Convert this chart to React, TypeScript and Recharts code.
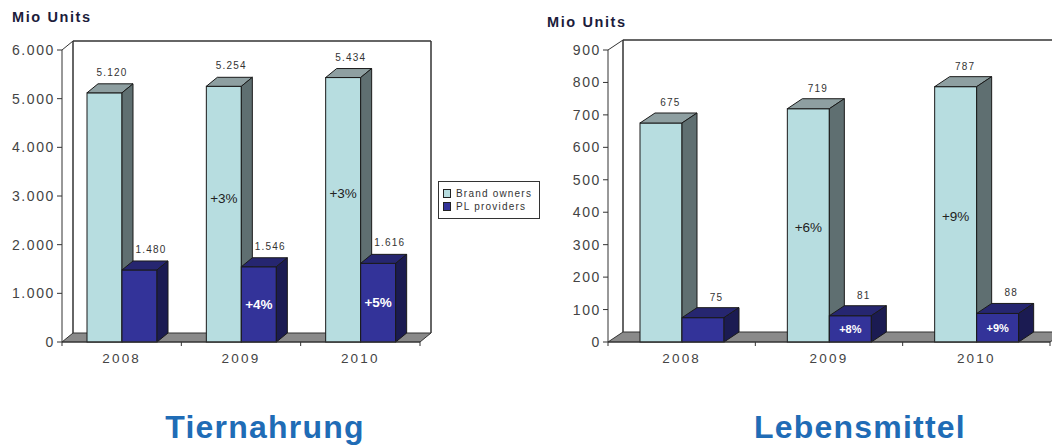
import { BarChart, Bar, XAxis, YAxis, LabelList, Customized } from "recharts"

const years = ["2008", "2009", "2010"]

// Tiernahrung (Mio Units)
const petBrand = [5120, 5254, 5434]
const petPL = [1480, 1546, 1616]
const petBrandGrowth = ["", "+3%", "+3%"]
const petPLGrowth = ["", "+4%", "+5%"]
const petTicks = [0, 1000, 2000, 3000, 4000, 5000, 6000]

// Lebensmittel (Mio Units)
const foodBrand = [675, 719, 787]
const foodPL = [75, 81, 88]
const foodBrandGrowth = ["", "+6%", "+9%"]
const foodPLGrowth = ["", "+8%", "+9%"]
const foodTicks = [0, 100, 200, 300, 400, 500, 600, 700, 800, 900]

const seriesNames = ["Brand owners", "PL providers"]

const FONT = '"Liberation Sans", Arial, sans-serif'

const BRAND = { front: "#b7dde0", top: "#8e9fa1", side: "#5f6f71" }
const PL = { front: "#333399", top: "#262670", side: "#1b1b52" }

const fmt = (v: number) => String(v).replace(/\B(?=(\d{3})+(?!\d))/g, ".")

type Row = { year: string; brand: number; pl: number; brandGrowth: string; plGrowth: string }

function rows(brand: number[], pl: number[], bg: string[], pg: string[]): Row[] {
  return years.map((year, i) => ({ year, brand: brand[i], pl: pl[i], brandGrowth: bg[i], plGrowth: pg[i] }))
}

const petData = rows(petBrand, petPL, petBrandGrowth, petPLGrowth)
const foodData = rows(foodBrand, foodPL, foodBrandGrowth, foodPLGrowth)

function Box3D(props: any) {
  const { x, y, width: w, height: h, colors, d, r } = props
  if (h == null || w == null) return null
  const s = "#1a1a1a"
  return (
    <g>
      <rect x={x} y={y} width={w} height={h} fill={colors.front} stroke={s} strokeWidth={1} />
      <polygon points={`${x},${y} ${x + d},${y - r} ${x + w + d},${y - r} ${x + w},${y}`} fill={colors.top} stroke={s} strokeWidth={1} />
      <polygon points={`${x + w},${y} ${x + w + d},${y - r} ${x + w + d},${y + h - r} ${x + w},${y + h}`} fill={colors.side} stroke={s} strokeWidth={1} />
    </g>
  )
}

// back wall + floor, plot box given in chart coordinates
function Wall({ L, R, T, B, d, r, n }: { L: number; R: number; T: number; B: number; d: number; r: number; n: number }) {
  const s = "#333"
  const step = (R - L) / n
  return (
    <g>
      <polygon points={`${L},${B} ${L + d},${B - r} ${R + d},${B - r} ${R},${B}`} fill="#8a8a8a" stroke={s} strokeWidth={1} />
      <line x1={L + d} y1={T - r} x2={L + d} y2={B - r} stroke={s} strokeWidth={1.5} />
      <line x1={L + d} y1={T - r} x2={R + d} y2={T - r} stroke={s} strokeWidth={1.5} />
      <line x1={R + d} y1={T - r} x2={R + d} y2={B - r} stroke={s} strokeWidth={1.5} />
      <line x1={L} y1={T} x2={L + d} y2={T - r} stroke={s} strokeWidth={1} />
      {Array.from({ length: n + 1 }, (_, i) => (
        <line key={i} x1={L + i * step} y1={B} x2={L + i * step} y2={B + 4} stroke={s} strokeWidth={1} />
      ))}
    </g>
  )
}

const valueLabel = (dx: number) => (p: any) => {
  const { x, y, width, value } = p
  return (
    <text x={x + width / 2 + dx} y={y - 17} textAnchor="middle" fontSize={10} letterSpacing={1.2} fill="#333" fontFamily={FONT}>
      {fmt(Number(value))}
    </text>
  )
}

const growthLabel = (frac: number, color: string, bold: boolean, size: number) => (p: any) => {
  const { x, y, width, height, value } = p
  if (!value) return null
  return (
    <text x={x + width / 2} y={y + height * frac} textAnchor="middle" dominantBaseline="central" fontSize={size}
      fontWeight={bold ? "bold" : "normal"} fill={color} fontFamily={FONT}>
      {value}
    </text>
  )
}

const LegendBox = () => (
  <div style={{ position: "absolute", left: 438, top: 181, border: "1.5px solid #333", background: "#fff", padding: "5px 4px", width: 92, fontFamily: FONT, fontSize: 10, color: "#333", letterSpacing: 1.2, lineHeight: "13px" }}>
    {seriesNames.map((name, i) => (
      <div key={name} style={{ display: "flex", alignItems: "center", whiteSpace: "nowrap" }}>
        <span style={{ display: "inline-block", width: 6, height: 7, background: i === 0 ? BRAND.front : PL.front, border: "1px solid #222", marginRight: 5 }} />
        {name}
      </div>
    ))}
  </div>
)

type PanelProps = {
  data: Row[]
  width: number
  height: number
  yWidth: number
  marginRight: number
  ticks: number[]
  barSize: number
  d: number
  r: number
  growthFrac: number
  plGrowthSize: number
}

function Panel({ data, width, height, yWidth, marginRight, ticks, barSize, d, r, growthFrac, plGrowthSize }: PanelProps) {
  const top = 50
  const xH = height - 342
  const L = yWidth
  const R = width - marginRight
  return (
    <BarChart width={width} height={height} data={data} margin={{ top, right: marginRight, bottom: 0, left: 0 }} barGap={0} barSize={barSize}>
      <Customized component={<Wall L={L} R={R} T={top} B={342} d={d} r={r} n={data.length} />} />
      <XAxis dataKey="year" tickLine={false} axisLine={{ stroke: "#333" }} height={xH} tickSize={6} tickMargin={5}
        tick={{ fill: "#444", fontSize: 13.5, letterSpacing: 2.2, fontFamily: FONT }} />
      <YAxis width={yWidth} domain={[ticks[0], ticks[ticks.length - 1]]} ticks={ticks} interval={0} tickFormatter={fmt}
        axisLine={{ stroke: "#333" }} tickLine={{ stroke: "#333" }} tickSize={5}
        tick={{ fill: "#444", fontSize: 14, letterSpacing: 1.6, fontFamily: FONT }} />
      <Bar dataKey="brand" name={seriesNames[0]} fill={BRAND.front} isAnimationActive={false}
        shape={(p: any) => <Box3D {...p} colors={BRAND} d={d} r={r} />}>
        <LabelList dataKey="brand" content={valueLabel(d / 2 + 2)} />
        <LabelList dataKey="brandGrowth" content={growthLabel(growthFrac, "#222", false, 13.5)} />
      </Bar>
      <Bar dataKey="pl" name={seriesNames[1]} fill={PL.front} isAnimationActive={false}
        shape={(p: any) => <Box3D {...p} colors={PL} d={d} r={r} />}>
        <LabelList dataKey="pl" content={valueLabel(d / 2 + 6)} />
        <LabelList dataKey="plGrowth" content={growthLabel(0.5, "#fff", true, plGrowthSize)} />
      </Bar>
    </BarChart>
  )
}

const unitStyle = { position: "absolute" as const, fontFamily: FONT, fontWeight: "bold" as const, fontSize: 14.5, letterSpacing: 1.6, color: "#1c1c3c" }
const titleStyle = { position: "absolute" as const, fontFamily: FONT, fontWeight: "bold" as const, fontSize: 32, letterSpacing: 1.2, color: "#1f6cb6", textAlign: "center" as const }

export default function App() {
  return (
    <div style={{ position: "absolute", left: 0, top: 0, width: 1052, height: 446, background: "#fff", overflow: "hidden" }}>
      <div style={{ ...unitStyle, left: 12, top: 9 }}>Mio Units</div>
      <div style={{ ...unitStyle, left: 547, top: 14 }}>Mio Units</div>
      <div style={{ position: "absolute", left: 0, top: 0 }}>
        <Panel data={petData} width={440} height={372} yWidth={62} marginRight={20} ticks={petTicks}
          barSize={35} d={11} r={9} growthFrac={0.44} plGrowthSize={13.5} />
      </div>
      <LegendBox />
      <div style={{ position: "absolute", left: 540, top: 0 }}>
        <Panel data={foodData} width={530} height={372} yWidth={68} marginRight={20} ticks={foodTicks}
          barSize={42} d={15} r={10} growthFrac={0.51} plGrowthSize={11} />
      </div>
      <div style={{ ...titleStyle, left: 130, width: 270, top: 409 }}>Tiernahrung</div>
      <div style={{ ...titleStyle, left: 725, width: 270, top: 409 }}>Lebensmittel</div>
    </div>
  )
}
